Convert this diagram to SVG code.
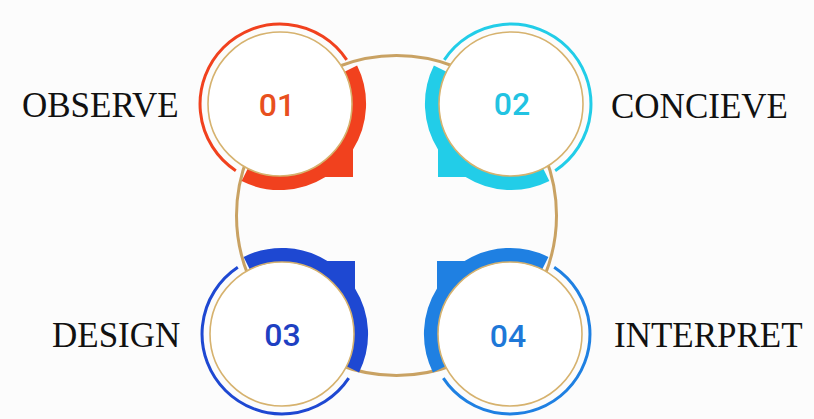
<svg xmlns="http://www.w3.org/2000/svg" xmlns:xlink="http://www.w3.org/1999/xlink" width="814" height="419" viewBox="0 0 814 419">
<style>
.label{font-family:"Liberation Serif","Times New Roman",serif;font-size:35px;fill:#111}
.num{font-family:Roboto,"Liberation Sans",sans-serif;font-size:32px;font-weight:500;text-anchor:middle}
.inner{fill:#fff;stroke:#D6B26E;stroke-width:1.6}
.link{fill:none;stroke:#C9A263;stroke-width:3}
</style>
<defs>
<path id="band" d="M 77.1 -38.4 A 86 86 0 0 1 73 45.4 L 73 73 L 45.4 73 A 86 86 0 0 1 -38.4 77.1 L -31.7 63.5 A 71 71 0 0 0 63.5 -31.7 Z"/>
<path id="ring" d="M -44.18 66.71 A 80 80 0 1 1 66.71 -44.18" fill="none" stroke-width="3"/>
</defs>
<rect width="814" height="419" fill="#FCFCFC"/>
<g id="connectors">
<circle class="link" cx="396.5" cy="215.5" r="160"/>
</g>
<g id="node-01">
<g transform="translate(280,104)" fill="#F1411E" stroke="#F1411E">
<use xlink:href="#band" stroke="none"/>
<use xlink:href="#ring"/>
<circle class="inner" r="72"/>
</g>
<text class="num" x="277" y="115.5" fill="#E8501E">01</text>
<text class="label" x="22" y="117">OBSERVE</text>
</g>
<g id="node-02">
<g transform="translate(511,104) scale(-1,1)" fill="#22CDE8" stroke="#22CDE8">
<use xlink:href="#band" stroke="none"/>
<use xlink:href="#ring"/>
<circle class="inner" r="72"/>
</g>
<text class="num" x="512" y="115" fill="#22C3E2">02</text>
<text class="label" x="611" y="118">CONCIEVE</text>
</g>
<g id="node-03">
<g transform="translate(282,334) scale(1,-1)" fill="#1E48D2" stroke="#1E48D2">
<use xlink:href="#band" stroke="none"/>
<use xlink:href="#ring"/>
<circle class="inner" r="72"/>
</g>
<text class="num" x="282.5" y="345.5" fill="#1E40C2">03</text>
<text class="label" x="52" y="347">DESIGN</text>
</g>
<g id="node-04">
<g transform="translate(510,334) scale(-1,-1)" fill="#1F80E2" stroke="#1F80E2">
<use xlink:href="#band" stroke="none"/>
<use xlink:href="#ring"/>
<circle class="inner" r="72"/>
</g>
<text class="num" x="508" y="347" fill="#1E78D8">04</text>
<text class="label" x="614" y="347">INTERPRET</text>
</g>
</svg>
